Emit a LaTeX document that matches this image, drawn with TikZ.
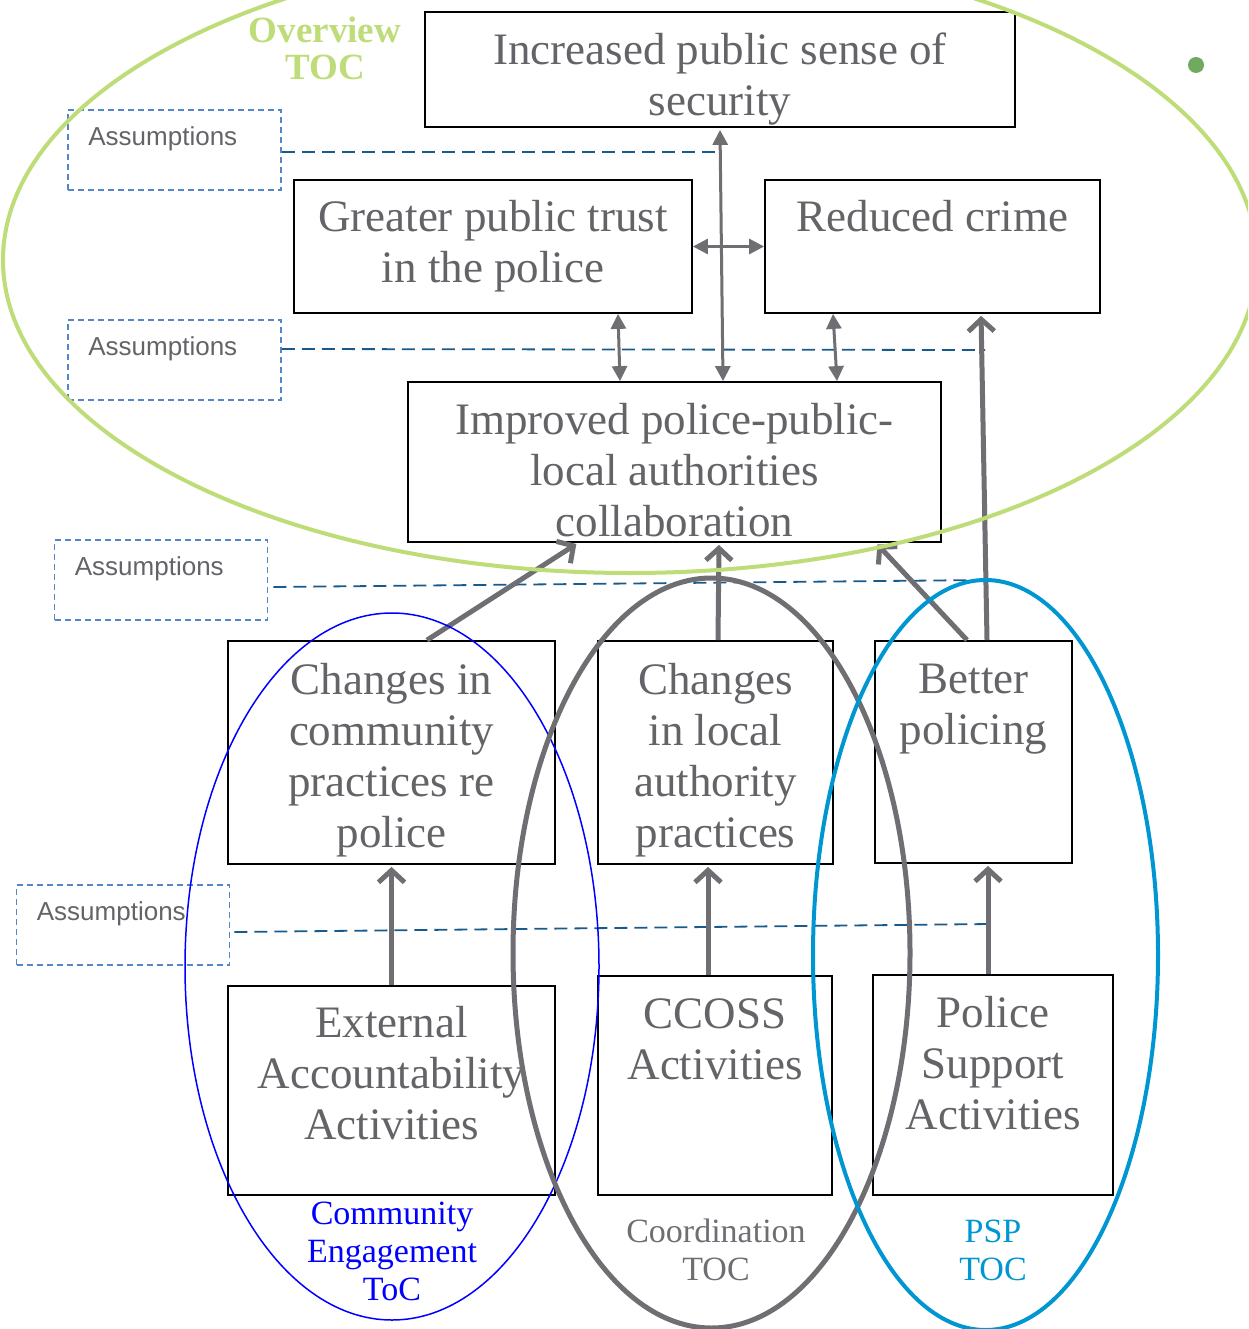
\documentclass[tikz,border=0pt]{standalone}
\usepackage{fontspec}
\setmainfont{Liberation Serif}
\newfontfamily\assumfont{Liberation Sans}
\usetikzlibrary{
  arrows.meta,
  }
\definecolor{txtgray}{RGB}{100,100,104}
\definecolor{arrgray}{RGB}{110,110,115}
\definecolor{ovgreen}{RGB}{190,220,120}
\definecolor{dotgreen}{RGB}{112,170,95}
\definecolor{assumblue}{RGB}{85,135,200}
\definecolor{lineblue}{RGB}{25,90,140}
\definecolor{pspblue}{RGB}{0,150,210}

\begin{document}
\begin{tikzpicture}[x=1pt,y=-1pt,
    box/.style={draw=black, line width=1.8pt, inner sep=0pt},
    boxtxt/.style={anchor=center, inner sep=0pt, align=center, text=txtgray, font=\fontsize{45}{51}\selectfont},
    assum/.style={draw=assumblue, line width=1.6pt, dash pattern=on 6pt off 4pt, minimum width=213pt, minimum height=80pt, inner sep=0pt},
    assumtxt/.style={anchor=north west, inner sep=0pt, text=txtgray, font=\assumfont\fontsize{26}{30}\selectfont, xshift=21pt, yshift=-17pt},
    assline/.style={draw=lineblue, line width=1.8pt, dash pattern=on 13pt off 7pt},
    twoway/.style={draw=arrgray, line width=3pt, {Triangle[length=15pt,width=15pt]}-{Triangle[length=15pt,width=15pt]}},
    oneway/.style={draw=arrgray, line width=5pt, -{Straight Barb[length=12pt,width=26pt]}, shorten >=2pt},
    tocname/.style={align=center, inner sep=0pt, font=\fontsize{34}{38}\selectfont}]
    \useasboundingbox (0,0) rectangle (1248,1329);
    \clip (0,0) rectangle (1248,1329);

    \node[box, minimum width=590pt, minimum height=115pt, label={[boxtxt, yshift=-10pt]center:{Increased public sense of\\security}}] (sec) at (720,69.5) {};
    \node[box, minimum width=398pt, minimum height=133pt, label={[boxtxt]center:{Greater public trust\\in the police}}] (trust) at (493,246.5) {};
    \node[box, minimum width=335pt, minimum height=133pt, label={[boxtxt, yshift=-3pt]center:{Reduced crime\\\strut}}] (crime) at (932.5,246.5) {};
    \node[box, minimum width=533pt, minimum height=160pt, label={[boxtxt, yshift=-8pt]center:{Improved police-public-\\local authorities\\collaboration}}] (collab) at (674.5,462) {};
    \node[box, minimum width=327pt, minimum height=223pt, label={[boxtxt, yshift=-8pt]center:{Changes in\\community\\practices re\\police}}] (comm) at (391.5,752.5) {};
    \node[box, minimum width=235pt, minimum height=223pt, label={[boxtxt, yshift=-8pt]center:{Changes\\in local\\authority\\practices}}] (local) at (715.5,752.5) {};
    \node[box, minimum width=197pt, minimum height=222pt, label={[boxtxt, yshift=-11pt]center:{Better\\policing\\\strut\\\strut}}] (better) at (973.5,752) {};
    \node[box, minimum width=327pt, minimum height=209pt, label={[boxtxt, yshift=17pt]center:{External\\Accountability\\Activities}}] (ext) at (391.5,1090.5) {};
    \node[box, minimum width=234pt, minimum height=219pt, label={[boxtxt, yshift=-12pt]center:{CCOSS\\Activities\\\strut\\\strut}}] (ccoss) at (715,1085.5) {};
    \node[box, minimum width=240pt, minimum height=220pt, label={[boxtxt, yshift=-11pt]center:{Police\\Support\\Activities\\\strut}}] (psupp) at (993,1085) {};

    \node[assum, label={[assumtxt]north west:Assumptions}] (a1) at (174.5,150) {};
    \node[assum, label={[assumtxt]north west:Assumptions}] (a2) at (174.5,360) {};
    \node[assum, label={[assumtxt]north west:Assumptions}] (a3) at (161,580) {};
    \node[assum, label={[assumtxt]north west:Assumptions}] (a4) at (123,925) {};

    \coordinate (d1) at (718,152);
    \coordinate (d2) at (985,350);
    \coordinate (d3) at (985,580);
    \coordinate (d4) at (990,924);
    \draw[assline] ([yshift=-2pt]a1.east) -- (d1);
    \draw[assline] ([yshift=11pt]a2.east) -- (d2);
    \draw[assline] ([xshift=5pt,yshift=-7pt]a3.east) -- (d3);
    \draw[assline] ([xshift=4pt,yshift=-7pt]a4.east) -- (d4);

    \draw[twoway] ([yshift=-2pt]sec.south) -- ([xshift=48.5pt]collab.north);
    \draw[twoway] (trust.east) -- (crime.west);
    \draw[twoway] ([xshift=125pt]trust.south) -- ([xshift=-54.5pt]collab.north);
    \draw[twoway] ([xshift=-99.5pt]crime.south) -- ([xshift=162.5pt]collab.north);

    \draw[oneway] ([xshift=35.5pt]comm.north) -- ([xshift=-96.5pt]collab.south);
    \draw[oneway] ([xshift=2.5pt]local.north) -- ([xshift=44.5pt]collab.south);
    \draw[oneway] ([xshift=-6.5pt]better.north) -- ([xshift=201.5pt]collab.south);
    \draw[oneway] ([xshift=13.5pt]better.north) -- ([xshift=48.5pt]crime.south);
    \draw[oneway] (ext.north) -- (comm.south);
    \draw[oneway] ([xshift=-7pt]ccoss.north) -- ([xshift=-7.5pt]local.south);
    \draw[oneway] ([xshift=-5pt]psupp.north) -- ([xshift=14.5pt]better.south);

    \draw[ovgreen, line width=4pt] (630,260) ellipse [x radius=627pt, y radius=313pt];
    \draw[blue, line width=1.5pt] (392,966.5) ellipse [x radius=207pt, y radius=353.5pt];
    \draw[arrgray, line width=5pt] (711.5,953) ellipse [x radius=198.5pt, y radius=375pt];
    \draw[pspblue, line width=4pt] (985.5,955) ellipse [x radius=172.5pt, y radius=375pt];
    \fill[dotgreen] (1196,65) circle [radius=8pt];

    \node[align=center, inner sep=0pt, text=ovgreen, font=\bfseries\fontsize{37}{37}\selectfont] (ovtoc) at (325,48) {Overview\\TOC};
    \node[tocname, text=blue] (cetoc) at (392,1251) {Community\\Engagement\\ToC};
    \node[tocname, text=arrgray] (cotoc) at (716,1250) {Coordination\\TOC};
    \node[tocname, text=pspblue] (psptoc) at (993,1250) {PSP\\TOC};
\end{tikzpicture}
\end{document}
